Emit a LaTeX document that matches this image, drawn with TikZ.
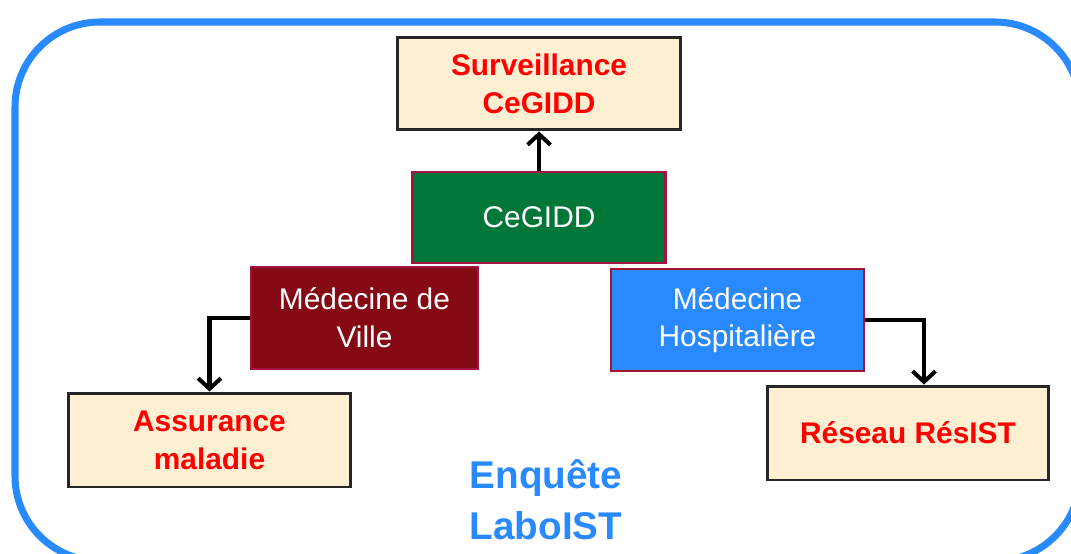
\documentclass[tikz,border=0pt]{standalone}
\usepackage{fontspec}
\setmainfont{Liberation Sans}
\usepackage{tikz}
\usetikzlibrary{arrows.meta}
\definecolor{frameblue}{RGB}{41,137,255}
\definecolor{cream}{RGB}{255,240,212}
\definecolor{cegiddgreen}{RGB}{0,118,56}
\definecolor{villered}{RGB}{134,10,22}
\definecolor{edgered}{RGB}{165,20,65}
\newcommand{\boxfont}{\fontsize{17}{21.5}\selectfont}
\tikzset{
    unit/.style={draw=edgered, line width=1.2pt, text=white, align=center, font=\boxfont, inner sep=0pt},
    outlet/.style={draw=black!85, fill=cream, line width=1.7pt, text=red, align=center, font=\boxfont\bfseries, inner sep=0pt},
    link/.style={line width=2.3pt, -{Straight Barb[length=6pt,width=13pt]}}
}

\begin{document}
\begin{tikzpicture}[x=0.02cm, y=-0.02cm]

    \useasboundingbox (0,0) rectangle (1071,554);
    \clip (0,0) rectangle (1071,554);

    \draw[frameblue, line width=4pt, rounded corners=1.7cm] (15,22) rectangle (1080,561);

    \node[outlet, minimum width=5.68cm, minimum height=1.86cm] (surv) at (539,83.5) {Surveillance\\CeGIDD};
    \node[unit, fill=cegiddgreen, minimum width=5.06cm, minimum height=1.82cm] (cegidd) at (539,217.5) {CeGIDD};

    \node[unit, fill=villered, minimum width=4.54cm, minimum height=2.04cm] (ville) at (364.5,318) {Médecine de\\Ville};
    \node[unit, fill=frameblue, minimum width=5.06cm, minimum height=2.04cm] (hosp) at (737.5,320) {Médecine\\Hospitalière};

    \node[outlet, minimum width=5.66cm, minimum height=1.88cm] (assur) at (209.5,440) {Assurance\\maladie};
    \node[outlet, minimum width=5.64cm, minimum height=1.88cm] (resist) at (908,433) {Réseau RésIST};

    \node[text=frameblue, font=\fontsize{22}{29}\selectfont\bfseries, align=center, inner sep=0pt] (labo) at (546,500) {Enquête\\LaboIST};

    \draw[link] (cegidd.north) -- (surv.south);
    \draw[link] (ville.west) -| (assur.north);
    \draw[link] (hosp.east) -| ([xshift=0.32cm]resist.north);

\end{tikzpicture}
\end{document}
